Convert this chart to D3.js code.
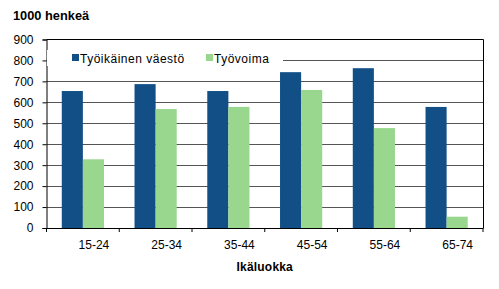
<!DOCTYPE html>
<html>
<head>
<meta charset="utf-8">
<script src="https://cdn.jsdelivr.net/npm/d3@7"></script>
<style>
  body { margin: 0; background: #fff; }
  text { font-family: "Liberation Sans", Arial, sans-serif; }
</style>
</head>
<body>
<script>
var categories = ["15-24", "25-34", "35-44", "45-54", "55-64", "65-74"];
var seriesNames = ["Työikäinen väestö", "Työvoima"];
var tyoikainen = [654, 687, 654, 744, 763, 578];
var tyovoima = [328, 568, 578, 659, 477, 54];
var yTicks = [0, 100, 200, 300, 400, 500, 600, 700, 800, 900];

var colors = ["#124f86", "#99d78e"];
var width = 499, height = 289;
var margin = { top: 39.5, right: 16, bottom: 61, left: 46.5 };

var svg = d3.select("body").append("svg")
  .attr("width", width)
  .attr("height", height);

var x0 = d3.scaleBand()
  .domain(categories)
  .range([margin.left, width - margin.right]);

var x1 = d3.scaleBand()
  .domain(seriesNames)
  .range([0, x0.bandwidth() * 0.58]);

var y = d3.scaleLinear()
  .domain([0, 900])
  .range([height - margin.bottom, margin.top]);

// gridlines
svg.append("g")
  .selectAll("line")
  .data(yTicks.slice(1, -1))
  .join("line")
  .attr("x1", margin.left)
  .attr("x2", width - margin.right)
  .attr("y1", function(d) { return Math.round(y(d)) + 0.5; })
  .attr("y2", function(d) { return Math.round(y(d)) + 0.5; })
  .attr("stroke", "#555")
  .attr("stroke-width", 1);

// top and right border
svg.append("path")
  .attr("d", "M" + margin.left + "," + margin.top + "H" + (width - margin.right + 0.5) + "V" + y(0))
  .attr("stroke", "#000")
  .attr("fill", "none");

// bars
var data = categories.map(function(c, i) {
  return { cat: c, values: [tyoikainen[i], tyovoima[i]] };
});

var groupOffset = (x0.bandwidth() - x1.range()[1]) / 2;

svg.append("g")
  .selectAll("g")
  .data(data)
  .join("g")
  .attr("transform", function(d) { return "translate(" + (x0(d.cat) + groupOffset) + ",0)"; })
  .selectAll("rect")
  .data(function(d) { return d.values.map(function(v, i) { return { name: seriesNames[i], v: v, i: i }; }); })
  .join("rect")
  .attr("x", function(d) { return x1(d.name); })
  .attr("width", x1.bandwidth())
  .attr("y", function(d) { return y(d.v); })
  .attr("height", function(d) { return y(0) - y(d.v); })
  .attr("fill", function(d) { return colors[d.i]; });

// y axis
var yAxis = d3.axisLeft(y)
  .tickValues(yTicks)
  .tickSize(4)
  .tickPadding(9);

var yg = svg.append("g")
  .attr("transform", "translate(" + margin.left + ",0)")
  .call(yAxis);
yg.select(".domain").attr("stroke", "#000");
yg.selectAll(".tick line").attr("stroke", "#000");
yg.selectAll("text").attr("font-size", 12).attr("fill", "#000")
  .attr("font-family", "Liberation Sans, Arial, sans-serif");

// x axis: ticks at category boundaries
var xAxis = d3.axisBottom(x0).tickSize(0).tickPadding(12);
var xg = svg.append("g")
  .attr("transform", "translate(0," + y(0) + ")")
  .call(xAxis);
xg.select(".domain").attr("stroke", "#000");
xg.selectAll("text")
  .attr("font-size", 12)
  .attr("fill", "#000")
  .attr("font-family", "Liberation Sans, Arial, sans-serif")
  .attr("dx", 11);

xg.selectAll(".bound")
  .data(categories.concat(["end"]))
  .join("line")
  .attr("class", "bound")
  .attr("x1", function(d, i) { return i < categories.length ? x0(d) : x0.range()[1]; })
  .attr("x2", function(d, i) { return i < categories.length ? x0(d) : x0.range()[1]; })
  .attr("y1", 0)
  .attr("y2", 4)
  .attr("stroke", "#000");

// titles
svg.append("text")
  .attr("x", 13)
  .attr("y", 20)
  .attr("font-size", 12.8)
  .attr("font-weight", "bold")
  .text("1000 henkeä");

svg.append("text")
  .attr("x", (margin.left + width - margin.right) / 2)
  .attr("y", 271)
  .attr("text-anchor", "middle")
  .attr("font-size", 12)
  .attr("font-weight", "bold")
  .attr("letter-spacing", 0.2)
  .text("Ikäluokka");

// legend
var legend = svg.append("g");
legend.append("rect")
  .attr("x", 47)
  .attr("y", 50)
  .attr("width", 236)
  .attr("height", 16)
  .attr("fill", "#fff");

var legendX = [72, 206];
var items = legend.selectAll(".item")
  .data(seriesNames)
  .join("g")
  .attr("class", "item")
  .attr("transform", function(d, i) { return "translate(" + legendX[i] + ",54)"; });
items.append("rect")
  .attr("width", 7)
  .attr("height", 7)
  .attr("fill", function(d, i) { return colors[i]; });
items.append("text")
  .attr("x", 8)
  .attr("y", 8.5)
  .attr("font-size", 12)
  .attr("letter-spacing", 0.5)
  .text(function(d) { return d; });
</script>
</body>
</html>
